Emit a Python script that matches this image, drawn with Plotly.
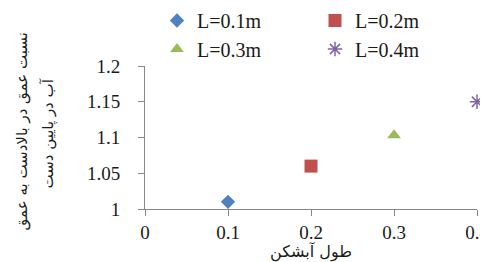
import plotly.graph_objects as go

names = ["L=0.1m", "L=0.2m", "L=0.3m", "L=0.4m"]
x_vals = [0.1, 0.2, 0.3, 0.4]
y_vals = [1.01, 1.06, 1.103, 1.15]
colors = ["#4F81BD", "#C0504D", "#9BBB59", "#8064A2"]
symbols = ["diamond", "square", "triangle-up", "asterisk-open"]
sizes = [11, 13, 12, 12]
legends = ["legend", "legend", "legend2", "legend2"]

x_title = "طول آبشکن"
y_title_lines = ["نسبت عمق در بالادست به عمق", "آب در پایین دست"]

FONT = "Liberation Serif, Times New Roman, DejaVu Sans, serif"
TEXT = "#1a1a1a"

# figure is drawn inside the page body (8px default margin)
W, H = 480, 254
L, R, T, B = 137, 11, 58, 53
PW, PH = W - L - R, H - T - B

fig = go.Figure()
for i in range(4):
    fig.add_trace(go.Scatter(
        x=[x_vals[i]], y=[y_vals[i]], mode="markers", name=names[i],
        marker=dict(symbol=symbols[i], color=colors[i], size=sizes[i],
                    line=dict(color=colors[i], width=1.5 if symbols[i] == "asterisk-open" else 0)),
        legend=legends[i], cliponaxis=False,
    ))

axis_common = dict(showline=True, linecolor="#878787", linewidth=1, ticks="outside",
                   ticklen=6, tickcolor="#878787", showgrid=False, zeroline=False,
                   ticklabeloverflow="allow",
                   tickfont=dict(family=FONT, size=19, color=TEXT))

legend_common = dict(orientation="h", entrywidth=113, entrywidthmode="pixels",
                     font=dict(family=FONT, size=20, color=TEXT),
                     bgcolor="rgba(0,0,0,0)", itemwidth=30,
                     xanchor="left", yanchor="middle", xref="paper", yref="container")

annots = []
for txt, cx, cy in [(y_title_lines[0], 13.5, 124), (y_title_lines[1], 39.5, 126)]:
    annots.append(dict(text=txt, textangle=-90, showarrow=False,
                       xref="paper", yref="paper",
                       x=(cx - L) / PW, y=(H - B - cy) / PH,
                       xanchor="center", yanchor="middle",
                       font=dict(family="DejaVu Sans", size=15, color=TEXT)))

fig.update_layout(
    width=W, height=H,
    margin=dict(l=L, r=R, t=T, b=B, autoexpand=False, pad=0),
    paper_bgcolor="white", plot_bgcolor="white",
    showlegend=True,
    legend=dict(legend_common, x=(149 - L) / PW, y=1 - 12.5 / H),
    legend2=dict(legend_common, x=(149 - L) / PW, y=1 - 41 / H),
    annotations=annots,
    xaxis=dict(axis_common, range=[0, 0.4], tickvals=[0, 0.1, 0.2, 0.3, 0.4],
               ticktext=["0", "0.1", "0.2", "0.3", "0.4"],
               title=dict(text=x_title, font=dict(family="DejaVu Sans", size=16, color=TEXT), standoff=4)),
    yaxis=dict(axis_common, range=[1, 1.2], tickvals=[1, 1.05, 1.1, 1.15, 1.2],
               ticktext=["1", "1.05", "1.1", "1.15", "1.2"], ticklabelstandoff=14),
)

fig.write_html("out.html")
